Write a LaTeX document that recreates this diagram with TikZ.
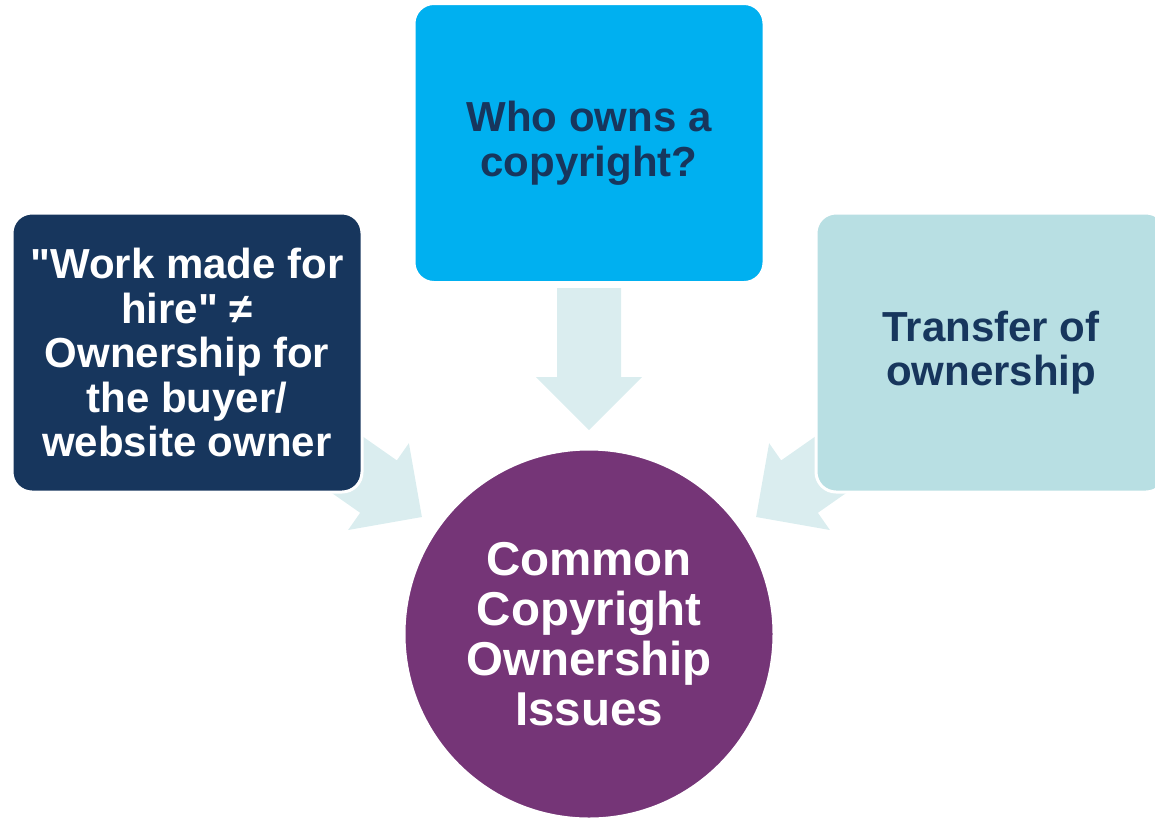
\documentclass[tikz,border=0pt]{standalone}
\usepackage{fontspec}
% straight quotes are wanted, so the TeX input mapping is switched off
\setmainfont{Liberation Sans}[Ligatures=TeXOff]
\usetikzlibrary{calc,backgrounds}
\definecolor{navy}{HTML}{17365D}
\definecolor{skyblue}{HTML}{00B0F0}
\definecolor{paleteal}{HTML}{B8DFE3}
\definecolor{plum}{HTML}{753577}
\definecolor{arrowtint}{HTML}{DAEDEF}
\tikzset{
  topic/.style={rectangle, rounded corners=20pt, minimum width=350pt,
    minimum height=279pt, draw=white, line width=3pt, align=center,
    font=\fontsize{42}{44.5}\selectfont\bfseries},
  hub/.style={circle, minimum size=370pt, inner sep=0pt, draw=white,
    line width=3pt, fill=plum, text=white, align=center,
    font=\fontsize{47.5}{50}\selectfont\bfseries},
  blockarrow/.style={fill=arrowtint},
}
% block arrow from the hub towards a topic box:
% #1 = hub node, #2 = topic node, #3 = name prefix
\newcommand{\blockarrow}[3]{%
  \coordinate (#3tip) at ($(#1.center)!204pt!(#2.center)$);
  \coordinate (#3tail) at ($(#1.center)!346pt!(#2.center)$);
  \coordinate (#3base) at ($(#3tail)!89pt!(#3tip)$);
  \fill[blockarrow]
    ($(#3tail)!32pt!90:(#3tip)$) -- ($(#3base)!32pt!-90:(#3tail)$)
    -- ($(#3base)!53pt!-90:(#3tail)$) -- (#3tip)
    -- ($(#3base)!53pt!90:(#3tail)$) -- ($(#3base)!32pt!90:(#3tail)$)
    -- ($(#3tail)!32pt!-90:(#3tip)$) -- cycle;
}
\begin{document}
\begin{tikzpicture}[x=1pt,y=-1pt]
  \useasboundingbox (0,0) rectangle (1155,820);

  \node[topic, fill=skyblue, text=navy] (who) at (589,143)
    {Who owns a\\copyright?};
  \node[topic, fill=navy, text=white] (hire) at (187,352.5)
    {"Work made for\\hire" ≠\\Ownership for\\the buyer/\\website owner};
  \node[topic, fill=paleteal, text=navy] (transfer) at (991,352.5)
    {Transfer of\\ownership};
  \node[hub] (issues) at (589,634)
    {Common\\Copyright\\Ownership\\Issues};

  \begin{scope}[on background layer]
    \blockarrow{issues}{who}{a}
    \blockarrow{issues}{hire}{b}
    \blockarrow{issues}{transfer}{c}
  \end{scope}
\end{tikzpicture}
\end{document}
